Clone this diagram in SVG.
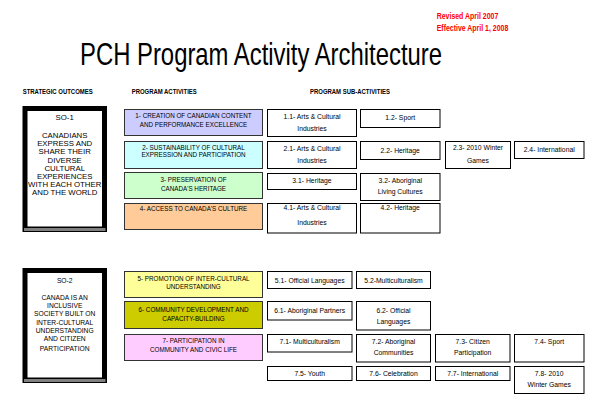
<svg xmlns="http://www.w3.org/2000/svg" width="595" height="403" viewBox="0 0 595 403">
<style>
text{font-family:"Liberation Sans",Arial,sans-serif;fill:#000;text-anchor:middle}
.title{font-size:31.5px}
.red{font-size:9px;font-weight:bold;fill:#FF0000;text-anchor:start}
.hdr{font-size:6.5px;font-weight:bold;text-anchor:start}
.so{font-size:7.8px}
.so2{font-size:6.7px}
.pa{font-size:6.3px}
.sa{font-size:6.8px}
.pabox{stroke:#333;stroke-width:1}
.sabox{fill:#fff;stroke:#000;stroke-width:1}
</style>
<rect width="595" height="403" fill="#fff"/>
<text class="red" x="436.7" y="19.3" textLength="61.6" lengthAdjust="spacingAndGlyphs">Revised April 2007</text>
<text class="red" x="436.7" y="30.7" textLength="71.6" lengthAdjust="spacingAndGlyphs">Effective April 1, 2008</text>
<text class="title" x="261" y="64.5" textLength="362" lengthAdjust="spacingAndGlyphs">PCH Program Activity Architecture</text>
<text class="hdr" x="22.7" y="94.3" textLength="70" lengthAdjust="spacingAndGlyphs">STRATEGIC OUTCOMES</text>
<text class="hdr" x="131.7" y="94.3" textLength="65" lengthAdjust="spacingAndGlyphs">PROGRAM ACTIVITIES</text>
<text class="hdr" x="310" y="94.3" textLength="80" lengthAdjust="spacingAndGlyphs">PROGRAM SUB-ACTIVITIES</text>

<g id="so1">
<rect x="22.5" y="106" width="84.5" height="126" fill="#000"/>
<rect x="27.5" y="111" width="74.5" height="115.5" fill="#fff"/>
<rect x="24" y="228" width="81.5" height="3" fill="#808080"/>
<text class="so" x="64.7" y="119.5">SO-1</text>
<text class="so" x="64.7" y="137.7">CANADIANS</text>
<text class="so" x="64.7" y="146">EXPRESS AND</text>
<text class="so" x="64.7" y="154.4">SHARE THEIR</text>
<text class="so" x="64.7" y="162.7">DIVERSE</text>
<text class="so" x="64.7" y="171">CULTURAL</text>
<text class="so" x="64.7" y="178.7">EXPERIENCES</text>
<text class="so" x="64.7" y="187">WITH EACH OTHER</text>
<text class="so" x="64.7" y="195.4">AND THE WORLD</text>
</g>
<g id="so2">
<rect x="22.5" y="268" width="84.5" height="115" fill="#000"/>
<rect x="27.5" y="273" width="74.5" height="104.5" fill="#fff"/>
<rect x="24" y="379" width="81.5" height="3" fill="#808080"/>
<text class="so2" x="64.7" y="283.4">SO-2</text>
<text class="so2" x="64.7" y="300">CANADA IS AN</text>
<text class="so2" x="64.7" y="307.5">INCLUSIVE</text>
<text class="so2" x="64.7" y="316">SOCIETY BUILT ON</text>
<text class="so2" x="64.7" y="324.5">INTER-CULTURAL</text>
<text class="so2" x="64.7" y="332.7">UNDERSTANDING</text>
<text class="so2" x="64.7" y="341">AND CITIZEN</text>
<text class="so2" x="64.7" y="350.5">PARTICIPATION</text>
</g>

<g id="pa1"><rect class="pabox" x="124.5" y="109.5" width="138" height="26" fill="#CCCCFF"/>
<text class="pa" x="193.5" y="118.3">1- CREATION OF CANADIAN CONTENT</text>
<text class="pa" x="193.5" y="126.5">AND PERFORMANCE EXCELLENCE</text></g>
<g id="pa2"><rect class="pabox" x="124.5" y="141.5" width="138" height="27" fill="#CCFFFF"/>
<text class="pa" x="193.5" y="149.5">2- SUSTAINABILITY OF CULTURAL</text>
<text class="pa" x="193.5" y="157.3">EXPRESSION AND PARTICIPATION</text></g>
<g id="pa3"><rect class="pabox" x="124.5" y="172.5" width="138" height="26" fill="#CCFFCC"/>
<text class="pa" x="193.5" y="182.3">3- PRESERVATION OF</text>
<text class="pa" x="193.5" y="190.5">CANADA'S HERITAGE</text></g>
<g id="pa4"><rect class="pabox" x="124.5" y="203.5" width="138" height="26" fill="#FFCC99"/>
<text class="pa" x="193.5" y="210.5">4- ACCESS TO CANADA'S CULTURE</text></g>
<g id="pa5"><rect class="pabox" x="124.5" y="271.5" width="138" height="26" fill="#FFFF99"/>
<text class="pa" x="193.5" y="280.5">5- PROMOTION OF INTER-CULTURAL</text>
<text class="pa" x="193.5" y="289">UNDERSTANDING</text></g>
<g id="pa6"><rect class="pabox" x="124.5" y="301.5" width="138" height="27" fill="#CCCC00"/>
<text class="pa" x="193.5" y="312.3">6- COMMUNITY DEVELOPMENT AND</text>
<text class="pa" x="193.5" y="320.5">CAPACITY-BUILDING</text></g>
<g id="pa7"><rect class="pabox" x="124.5" y="334.5" width="138" height="26" fill="#FFCCFF"/>
<text class="pa" x="193.5" y="343.3">7- PARTICIPATION IN</text>
<text class="pa" x="193.5" y="351.5">COMMUNITY AND CIVIC LIFE</text></g>

<g id="sa1-1"><rect class="sabox" x="267.5" y="109.5" width="89" height="27"/>
<text class="sa" x="312" y="119">1.1- Arts &amp; Cultural</text><text class="sa" x="312" y="131">Industries</text></g>
<g id="sa1-2"><rect class="sabox" x="360.5" y="109.5" width="79.5" height="18"/>
<text class="sa" x="400.2" y="120">1.2- Sport</text></g>
<g id="sa2-1"><rect class="sabox" x="267.5" y="141.5" width="89" height="27"/>
<text class="sa" x="312" y="151">2.1- Arts &amp; Cultural</text><text class="sa" x="312" y="163">Industries</text></g>
<g id="sa2-2"><rect class="sabox" x="360.5" y="141.5" width="79.5" height="18"/>
<text class="sa" x="400.2" y="152.5">2.2- Heritage</text></g>
<g id="sa2-3"><rect class="sabox" x="445.5" y="141.5" width="65" height="27"/>
<text class="sa" x="478" y="150">2.3- 2010 Winter</text><text class="sa" x="478" y="162.5">Games</text></g>
<g id="sa2-4"><rect class="sabox" x="514.5" y="141.5" width="69.5" height="17"/>
<text class="sa" x="549.2" y="151.5">2.4- International</text></g>
<g id="sa3-1"><rect class="sabox" x="267.5" y="173.5" width="89" height="16"/>
<text class="sa" x="312" y="182.5">3.1- Heritage</text></g>
<g id="sa3-2"><rect class="sabox" x="360.5" y="173.5" width="79.5" height="27"/>
<text class="sa" x="400.2" y="182.5">3.2- Aboriginal</text><text class="sa" x="400.2" y="194">Living Cultures</text></g>
<g id="sa4-1"><rect class="sabox" x="267.5" y="203.5" width="89" height="29.5"/>
<text class="sa" x="312" y="210.3">4.1- Arts &amp; Cultural</text><text class="sa" x="312" y="224.7">Industries</text></g>
<g id="sa4-2"><rect class="sabox" x="360.5" y="203.5" width="79.5" height="29.5"/>
<text class="sa" x="400.2" y="210.3">4.2- Heritage</text></g>

<g id="sa5-1"><rect class="sabox" x="267.5" y="271.5" width="84.5" height="17"/>
<text class="sa" x="309.7" y="282.5">5.1- Official Languages</text></g>
<g id="sa5-2"><rect class="sabox" x="356.5" y="271.5" width="74" height="17"/>
<text class="sa" x="393.5" y="282.5">5.2-Multiculturalism</text></g>
<g id="sa6-1"><rect class="sabox" x="267.5" y="301.5" width="84.5" height="18.5"/>
<text class="sa" x="309.7" y="312.5">6.1- Aboriginal Partners</text></g>
<g id="sa6-2"><rect class="sabox" x="356.5" y="301.5" width="74" height="28.5"/>
<text class="sa" x="393.5" y="312.5">6.2- Official</text><text class="sa" x="393.5" y="324">Languages</text></g>
<g id="sa7-1"><rect class="sabox" x="267.5" y="334.5" width="84.5" height="17.5"/>
<text class="sa" x="309.7" y="343.5">7.1- Multiculturalism</text></g>
<g id="sa7-2"><rect class="sabox" x="356.5" y="334.5" width="74" height="27.5"/>
<text class="sa" x="393.5" y="343.5">7.2- Aboriginal</text><text class="sa" x="393.5" y="355">Communities</text></g>
<g id="sa7-3"><rect class="sabox" x="435.5" y="334.5" width="74.5" height="27.5"/>
<text class="sa" x="472.7" y="343.5">7.3- Citizen</text><text class="sa" x="472.7" y="355">Participation</text></g>
<g id="sa7-4"><rect class="sabox" x="514.5" y="334.5" width="69.5" height="27.5"/>
<text class="sa" x="549.2" y="343.5">7.4- Sport</text></g>
<g id="sa7-5"><rect class="sabox" x="267.5" y="366.5" width="84.5" height="14"/>
<text class="sa" x="309.7" y="376">7.5- Youth</text></g>
<g id="sa7-6"><rect class="sabox" x="356.5" y="366.5" width="74" height="14"/>
<text class="sa" x="393.5" y="376">7.6- Celebration</text></g>
<g id="sa7-7"><rect class="sabox" x="435.5" y="366.5" width="74.5" height="14"/>
<text class="sa" x="472.7" y="376">7.7- International</text></g>
<g id="sa7-8"><rect class="sabox" x="514.5" y="366.5" width="69.5" height="27"/>
<text class="sa" x="549.2" y="376">7.8- 2010</text><text class="sa" x="549.2" y="387">Winter Games</text></g>

<g id="connectors"/>
</svg>
